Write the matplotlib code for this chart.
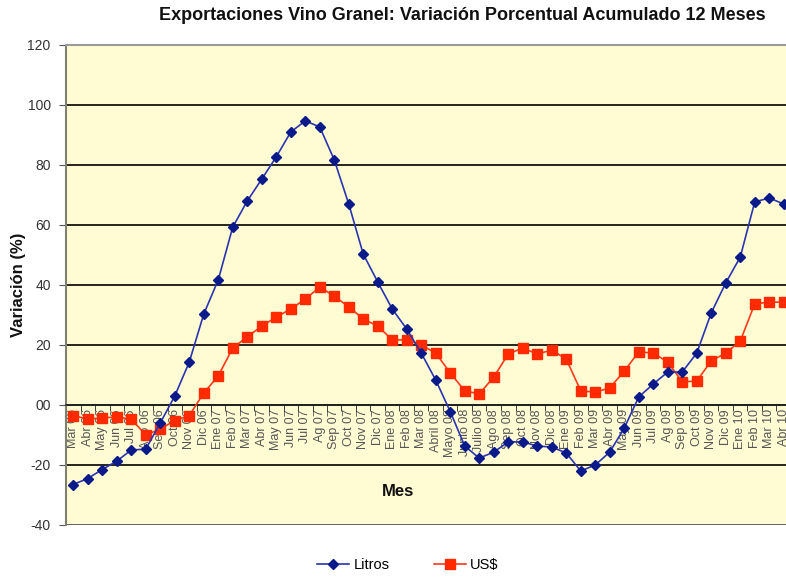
import matplotlib
matplotlib.use("Agg")
import matplotlib.pyplot as plt
from matplotlib.ticker import FixedLocator, FixedFormatter

months = ["Mar 06","Abr 06","May 06","Jun 06","Jul 06","Ago 06","Sep 06","Oct 06","Nov 06","Dic 06",
          "Ene 07","Feb 07","Mar 07","Abr 07","May 07","Jun 07","Jul 07","Ag 07","Sep 07","Oct 07",
          "Nov 07","Dic 07","Ene 08","Feb 08","Mar 08","Abril 08","Mayo 08","Junio 08","Julio 08","Ago 08",
          "Sep 08","Oct 08","Nov 08","Dic 08","Ene 09","Feb 09","Mar 09","Abr 09","May 09","Jun 09",
          "Jul 09","Ag 09","Sep 09","Oct 09","Nov 09","Dic 09","Ene 10","Feb 10","Mar 10","Abr 10"]

litros = [-26.5, -24.5, -21.5, -18.7, -15, -14.7, -6, 3, 14.3, 30.3,
          41.7, 59.3, 68, 75.3, 82.7, 91, 94.7, 92.7, 81.7, 67,
          50.3, 41, 32, 25.3, 17.3, 8.3, -2.2, -13.7, -17.7, -15.7,
          -12.3, -12.3, -13.7, -14, -16, -22, -20, -15.7, -7.7, 2.7,
          7, 11, 11, 17.3, 30.7, 40.7, 49.3, 67.7, 69, 67]

usd = [-3.5, -4.7, -4.3, -4, -4.7, -10, -8, -5.2, -3.5, 4,
       9.7, 19, 22.7, 26.3, 29.3, 32, 35.3, 39.3, 36.3, 32.7,
       28.7, 26.3, 21.7, 21.7, 20, 17.3, 10.7, 4.7, 3.7, 9.3,
       17, 19, 17, 18.3, 15.3, 4.7, 4.3, 5.7, 11.3, 17.7,
       17.3, 14.3, 7.7, 8, 14.7, 17.3, 21.3, 33.7, 34.3, 34.3]

yticks = [-40, -20, 0, 20, 40, 60, 80, 100, 120]
ytick_labels = ["-40", "-20", "00", "20", "40", "60", "80", "100", "120"]

plt.rcParams['font.family'] = ['Liberation Sans', 'DejaVu Sans']

fig = plt.figure(figsize=(7.86, 5.78), dpi=100)
ax = fig.add_axes([66/786, 1-525/578, 725/786, 480/578])
ax.set_facecolor('#FFFCD4')

x = list(range(len(months)))
ax.set_xlim(-0.5, len(months) - 0.5)
ax.set_ylim(-40, 120)

for yv in yticks[1:-1]:
    ax.axhline(yv, color='black', lw=1.2, zorder=1)
ax.axhline(-40, color='#444444', lw=1.2, zorder=1)

ax.plot(x, litros, color='#2A34B0', lw=1.2, marker='D', markersize=5,
        markerfacecolor='#0A1A8A', markeredgecolor='#0A1A8A', label='Litros', zorder=4)
ax.plot(x, usd, color='#FF3A1A', lw=1.2, marker='s', markersize=7.5,
        markerfacecolor='#FF2A00', markeredgecolor='#FF2A00', label='US$', zorder=3)

ax.set_axisbelow(True)
ax.spines['bottom'].set_position(('data', 0))
ax.spines['bottom'].set_color('#222222')
ax.spines['bottom'].set_linewidth(1.2)
ax.spines['right'].set_visible(False)
ax.spines['top'].set_color('#9A9A9A')
ax.spines['top'].set_linewidth(1.5)
ax.spines['left'].set_color('#808070')
ax.spines['left'].set_linewidth(1.5)

ax.xaxis.set_major_locator(FixedLocator(x))
ax.xaxis.set_major_formatter(FixedFormatter(months))
ax.xaxis.set_minor_locator(FixedLocator([i - 0.5 for i in range(len(months) + 1)]))
ax.tick_params(axis='x', which='major', length=0, pad=3, labelsize=9,
               labelcolor='#555555', labelrotation=90)
ax.tick_params(axis='x', which='minor', length=4, direction='out', color='#222222')

ax.set_yticks(yticks)
ax.set_yticklabels(ytick_labels)
ax.tick_params(axis='y', length=5, direction='out', color='#555555', labelsize=10,
               labelcolor='#333333', pad=6)

fig.text(462/786, 1-16/578, "Exportaciones Vino Granel: Variación Porcentual Acumulado 12 Meses",
         ha='center', va='center', fontsize=13, fontweight='bold', color='#111111')
fig.text(19/786, 1-285/578, "Variación (%)", rotation=90, ha='center', va='center',
         fontsize=12, fontweight='bold', color='#111111')
fig.text(398/786, 1-492/578, "Mes", ha='center', va='center', fontsize=12,
         fontweight='bold', color='#111111')

fig.legend(loc='center', bbox_to_anchor=(408/786, 1-565/578), ncol=2, frameon=False,
           fontsize=10.5, handlelength=2.2, columnspacing=3.0, handletextpad=0.3)

fig.savefig("out.png", dpi=100, facecolor='white')
